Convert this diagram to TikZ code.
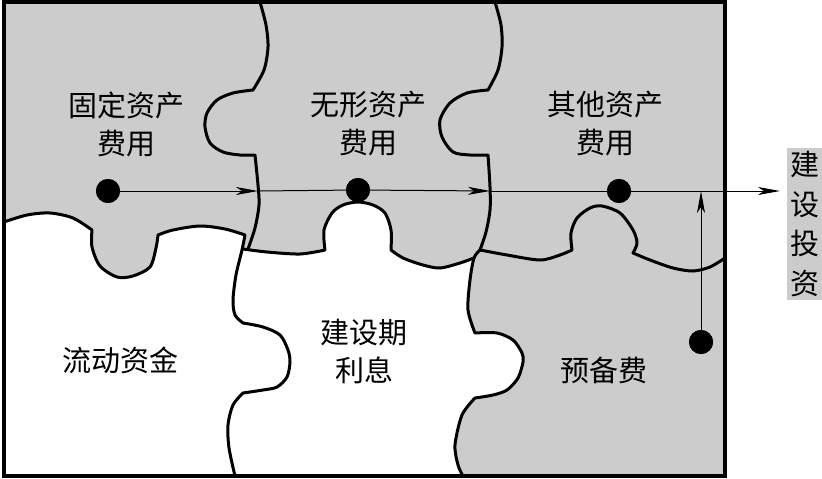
\documentclass[tikz,border=0pt]{standalone}
\usepackage{fontspec}
\newfontfamily\cjk{Noto Sans CJK SC}
\usetikzlibrary{arrows.meta}
\definecolor{piecegrey}{gray}{0.80}
\tikzset{
  edge/.style={line width=3pt, line join=round, line cap=round},
  frame/.style={line width=3.5pt},
  ln/.style={line width=1pt},
  arr/.style={line width=1pt, -{Stealth[length=22pt,width=8pt,inset=6pt]}},
  dot/.style={circle, fill=black, minimum size=24pt, inner sep=0pt},
  lbl/.style={font=\cjk\fontsize{29}{38}\selectfont, align=center, inner sep=0pt},
}
\begin{document}
\begin{tikzpicture}[x=1pt,y=-1pt]
\useasboundingbox (0,0) rectangle (822,479);
% background of the puzzle
\fill[piecegrey] (4,2) rectangle (725,476);
% white piece: liudong zijin
\fill[white] (4,476) -- (4,222)
  -- plot[smooth] coordinates {(4,222) (27,215) (50,213) (73,218) (92,230)}
  -- plot[smooth] coordinates {(92,230) (92,247) (100,266) (117,277) (133,276) (150,267) (156,248) (158,235)}
  -- plot[smooth] coordinates {(158,235) (173,230) (200,226) (225,229) (245,235)}
  -- plot[smooth] coordinates {(245,235) (242,250) (236,275) (233,300) (235,315) (243,323)}
  -- plot[smooth] coordinates {(243,323) (263,327) (280,335) (288,350) (290,362) (287,377) (277,387) (263,390) (243,393)}
  -- plot[smooth] coordinates {(243,393) (233,405) (228,425) (229,448) (235,476)}
  -- cycle;
% white piece: jianshe qi lixi
\fill[white] (243,249)
  -- plot[smooth] coordinates {(243,249) (267,252) (300,254) (325,250)}
  -- plot[smooth] coordinates {(325,250) (324,230) (332,213) (343,205) (358,202) (373,205) (385,213) (391,230) (391,250)}
  -- plot[smooth] coordinates {(391,250) (403,258) (423,265) (440,268) (460,263) (474,258)}
  -- plot[smooth] coordinates {(474,258) (470,280) (468,310) (475,333)}
  -- plot[smooth] coordinates {(475,333) (497,333) (513,340) (522,353) (523,362) (518,378) (507,390) (493,395) (475,398)}
  -- plot[smooth] coordinates {(475,398) (462,415) (455,445) (458,465) (463,476)}
  -- (225,476) -- (225,249) -- cycle;
% puzzle edges
\draw[edge] plot[smooth] coordinates {(260,2) (266,25) (268,47) (264,70) (253,90)}
  -- plot[smooth] coordinates {(253,90) (233,93) (217,100) (207,113) (205,127) (210,143) (223,152) (240,155) (255,155)}
  -- plot[smooth] coordinates {(255,155) (258,185) (259,205) (255,228) (248,249)};
\draw[edge] plot[smooth] coordinates {(4,222) (27,215) (50,213) (73,218) (92,230)}
  -- plot[smooth] coordinates {(92,230) (92,247) (100,266) (117,277) (133,276) (150,267) (156,248) (158,235)}
  -- plot[smooth] coordinates {(158,235) (173,230) (200,226) (225,229) (245,235)}
  -- plot[smooth] coordinates {(245,235) (242,250) (236,275) (233,300) (235,315) (243,323)}
  -- plot[smooth] coordinates {(243,323) (263,327) (280,335) (288,350) (290,362) (287,377) (277,387) (263,390) (243,393)}
  -- plot[smooth] coordinates {(243,393) (233,405) (228,425) (229,448) (235,476)};
\draw[edge] plot[smooth] coordinates {(243,249) (267,252) (300,254) (325,250)}
  -- plot[smooth] coordinates {(325,250) (324,230) (332,213) (343,205) (358,202) (373,205) (385,213) (391,230) (391,250)}
  -- plot[smooth] coordinates {(391,250) (403,258) (423,265) (440,268) (460,263) (474,258)};
\draw[edge] plot[smooth] coordinates {(495,2) (501,25) (502,47) (498,70) (488,90)}
  -- plot[smooth] coordinates {(488,90) (467,93) (450,103) (440,120) (442,137) (453,152) (470,155) (488,155)}
  -- plot[smooth] coordinates {(488,155) (490,187) (490,210) (486,232) (480,250)}
  -- plot[smooth] coordinates {(480,250) (474,258) (470,280) (468,310) (475,333)}
  -- plot[smooth] coordinates {(475,333) (497,333) (513,340) (522,353) (523,362) (518,378) (507,390) (493,395) (475,398)}
  -- plot[smooth] coordinates {(475,398) (462,415) (455,445) (458,465) (463,476)};
\draw[edge] plot[smooth] coordinates {(480,250) (507,255) (540,260) (560,255) (572,250)}
  -- plot[smooth] coordinates {(572,250) (571,233) (577,218) (590,208) (602,206) (620,213) (633,230) (637,243) (633,253)}
  -- plot[smooth] coordinates {(633,253) (650,260) (673,268) (693,271) (710,267) (725,258)};
% frame
\draw[frame] (4,2) rectangle (725,476);
% labels
\node[lbl] (fixed) at (126,124) {固定资产\\费用};
\node[lbl] (intang) at (368,124) {无形资产\\费用};
\node[lbl] (other) at (605,124) {其他资产\\费用};
\node[lbl] (liquid) at (120,360) {流动资金};
\node[lbl] (interest) at (364,351) {建设期\\利息};
\node[lbl] (reserve) at (604,370) {预备费};
\node[lbl, fill=piecegrey, minimum width=35pt, minimum height=152pt, font=\cjk\fontsize{29}{39.5}\selectfont] (out) at (804.5,224) {建\\设\\投\\资};
% connectors
\node[dot] (d1) at (108,191) {};
\node[dot] (d2) at (358,190) {};
\node[dot] (d3) at (619,191) {};
\node[dot] (d4) at (701,342) {};
\coordinate (t1) at (258,191);
\coordinate (t2) at (490,191);
\coordinate (t3) at (780,191);
\coordinate (t4) at (701,191);
\draw[arr] (d1.center) -- (t1);
\draw[ln] (t1) -- (d2.center);
\draw[arr] (d2.center) -- (t2);
\draw[ln] (t2) -- (d3.center);
\draw[arr] (d3.center) -- (t3);
\draw[arr] (d4.center) -- (t4);
\node[dot] at (d1) {};
\node[dot] at (d2) {};
\node[dot] at (d3) {};
\node[dot] at (d4) {};
\end{tikzpicture}
\end{document}
